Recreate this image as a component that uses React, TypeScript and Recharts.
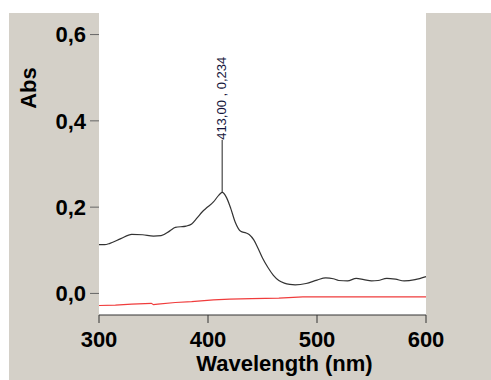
import {
  LineChart,
  Line,
  XAxis,
  YAxis,
  CartesianGrid,
  ReferenceLine,
  ReferenceDot,
} from 'recharts';

const FONT = "'Liberation Sans', Arial, sans-serif";

// sample spectrum (black)
const sampleWl = [
  300, 305, 310, 320, 330, 340, 350, 357, 365, 370, 380, 385, 390, 395, 399, 405, 410, 413,
  417, 421, 425, 430, 435, 438, 442, 446, 450, 455, 460, 465, 470, 475, 480, 490, 500, 508,
  515, 520, 528, 536, 543, 550, 556, 564, 572, 580, 590, 600,
];
const sampleAbs = [
  0.113, 0.113, 0.116, 0.127, 0.137, 0.136, 0.133, 0.134, 0.145, 0.153, 0.156, 0.161, 0.175,
  0.19, 0.199, 0.212, 0.228, 0.234, 0.222, 0.196, 0.165, 0.144, 0.14, 0.136, 0.124, 0.104,
  0.082, 0.06, 0.042, 0.03, 0.024, 0.021, 0.02, 0.023, 0.031, 0.036, 0.034, 0.03, 0.029,
  0.035, 0.032, 0.029, 0.03, 0.035, 0.033, 0.029, 0.032, 0.039,
];

// baseline (red)
const baseWl = [300, 315, 330, 348, 350, 354, 370, 385, 405, 420, 440, 465, 487, 520, 560, 600];
const baseAbs = [
  -0.028, -0.027, -0.025, -0.023, -0.026, -0.025, -0.021, -0.019, -0.015, -0.013, -0.012,
  -0.011, -0.008, -0.008, -0.008, -0.008,
];

const xTicks = [300, 400, 500, 600];
const yTicks = [0, 0.2, 0.4, 0.6];

const peakWl = 413;
const peakAbs = 0.234;
const leaderTop = 0.356;
const peakLabel = '413,00 , 0,234';

const sampleData = sampleWl.map((wl, i) => ({ wl, abs: sampleAbs[i] }));
const baseData = baseWl.map((wl, i) => ({ wl, abs: baseAbs[i] }));

const fmtY = (v: number) => v.toFixed(1).replace('.', ',');

const PeakText = ({ cx, cy }: { cx: number; cy: number }) => (
  <text
    x={cx + 4}
    y={cy}
    transform={`rotate(-90 ${cx + 4} ${cy})`}
    fontFamily={FONT}
    fontSize={13}
    fill="#14143a"
    textAnchor="start"
  >
    {peakLabel}
  </text>
);

export default function App() {
  return (
    <div style={{ position: 'absolute', left: 0, top: 0, width: 491, height: 380, background: '#fff' }}>
      <div
        style={{ position: 'absolute', left: 9, top: 13, width: 482, height: 367, background: '#d4d0c8' }}
      />
      <div style={{ position: 'absolute', left: 0, top: 0 }}>
        <LineChart width={491} height={380} margin={{ top: 13, right: 65, left: 39, bottom: 0 }}>
          <CartesianGrid fill="#fff" stroke="none" horizontal={false} vertical={false} />
          <XAxis
            dataKey="wl"
            type="number"
            domain={[300, 600]}
            ticks={xTicks}
            height={65}
            stroke="#333"
            tickSize={8}
            tickMargin={8}
            tick={{ fontFamily: FONT, fontSize: 22, fontWeight: 'bold', fill: '#000' }}
            label={{
              content: ({ viewBox }: any) => (
                <text
                  x={viewBox.x + viewBox.width / 2 + 22}
                  y={viewBox.y + 56}
                  textAnchor="middle"
                  fontFamily={FONT}
                  fontSize={22}
                  fontWeight="bold"
                  fill="#000"
                >
                  Wavelength (nm)
                </text>
              ),
            }}
          />
          <YAxis
            type="number"
            domain={[-0.05, 0.65]}
            ticks={yTicks}
            width={60}
            axisLine={false}
            tickLine={{ stroke: '#666' }}
            tickSize={9}
            tickMargin={4}
            tickFormatter={fmtY}
            tick={{ fontFamily: FONT, fontSize: 22, fontWeight: 'bold', fill: '#000' }}
            label={{
              content: ({ viewBox }: any) => {
                const lx = viewBox.x - 11;
                return (
                  <text
                    x={lx}
                    y={88}
                    transform={`rotate(-90 ${lx} 88)`}
                    textAnchor="middle"
                    dominantBaseline="central"
                    fontFamily={FONT}
                    fontSize={22}
                    fontWeight="bold"
                    fill="#000"
                  >
                    Abs
                  </text>
                );
              },
            }}
          />
          <Line
            data={baseData}
            dataKey="abs"
            type="linear"
            stroke="#f03c3c"
            strokeWidth={1.2}
            dot={false}
            isAnimationActive={false}
          />
          <Line
            data={sampleData}
            dataKey="abs"
            type="monotone"
            stroke="#333"
            strokeWidth={1.2}
            dot={false}
            isAnimationActive={false}
          />
          <ReferenceLine
            segment={[
              { x: peakWl, y: peakAbs },
              { x: peakWl, y: leaderTop },
            ]}
            stroke="#222"
            strokeWidth={1}
          />
          <ReferenceDot x={peakWl} y={leaderTop} r={0} shape={(p: any) => <PeakText cx={p.cx} cy={p.cy} />} />
        </LineChart>
      </div>
    </div>
  );
}
